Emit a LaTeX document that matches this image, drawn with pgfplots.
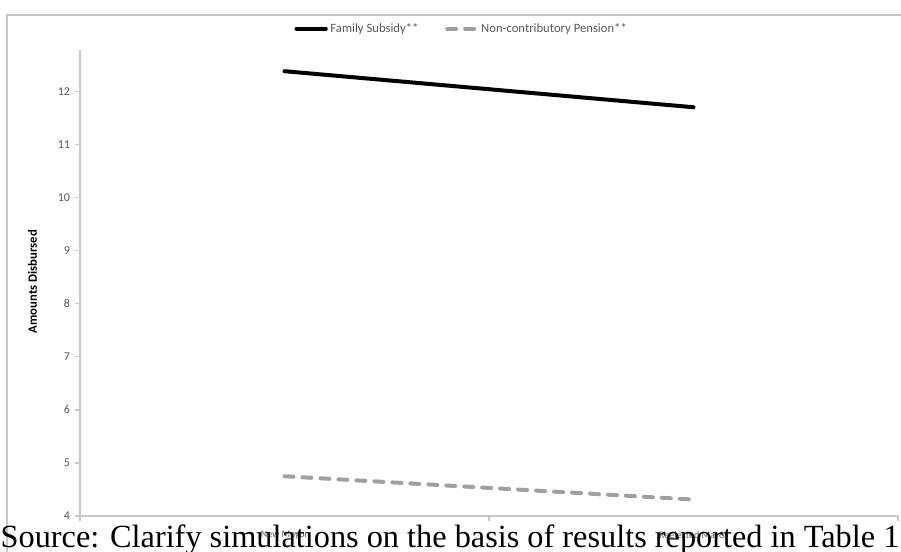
\documentclass[border=0pt]{standalone}
\usepackage{fontspec}
\setmainfont{Carlito}
\newfontfamily\timesfont{Liberation Serif}
\usepackage{pgfplots}
\pgfplotsset{compat=1.18}
\definecolor{axgray}{HTML}{C8C8C8}
\definecolor{lblgray}{HTML}{595959}
\definecolor{dashgray}{HTML}{A0A0A0}
\begin{document}
\begin{tikzpicture}
\path[use as bounding box] (0,0) rectangle (675.75pt,-414pt);
\draw[axgray, line width=0.9pt] (5.25pt,-414pt) -- (5.25pt,-11.25pt) -- (676pt,-11.25pt);
\begin{axis}[
  at={(60pt,-387pt)}, anchor=south west,
  scale only axis, width=613.5pt, height=349.5pt,
  xmin=0, xmax=2, ymin=4, ymax=12.79,
  axis x line*=bottom, axis y line*=left,
  axis line style={axgray, line width=0.8pt},
  tick align=outside,
  /pgf/number format/assume math mode=true,
  xtick={0.5,1.5}, xticklabels={New Mayor, Reelected Mayor},
  major x tick style={draw=none},
  minor xtick={0,1,2},
  minor tick length=4pt,
  major tick length=4pt,
  tick style={axgray, line width=0.8pt},
  ytick={4,5,...,12},
  yticklabel style={font=\fontsize{9}{10}\selectfont, text=lblgray},
  xticklabel style={font=\fontsize{7.5}{8}\selectfont, text=lblgray, yshift=-4pt},
  ylabel={\bfseries Amounts Disbursed},
  ylabel style={font=\fontsize{9.5}{10}\selectfont, text=black, at={(axis description cs:-0.058,0.503)}, anchor=center},
  legend columns=2,
  legend style={draw=none, fill=none, at={(0.467,1.046)}, anchor=center,
    font=\fontsize{9.5}{10}\selectfont, text=lblgray,
    /tikz/every even column/.append style={column sep=18pt}},
  legend image code/.code={\draw[#1] (0pt,0pt) -- (22pt,0pt);},
  clip=false,
]
\addplot[black, line width=3pt, line cap=round] coordinates {(0.5,12.39) (1.5,11.71)};
\addlegendentry{Family Subsidy**}
\addplot[dashgray, line width=3pt, line cap=round, dash pattern=on 6.75pt off 6.75pt] coordinates {(0.5,4.75) (1.5,4.31)};
\addlegendentry{Non-contributory Pension**}
\end{axis}
\node[anchor=base, inner sep=0pt] at (337.5pt,-410.25pt) {\resizebox{674pt}{!}{\timesfont Source: Clarify simulations on the basis of results reported in Table 1}};
\end{tikzpicture}
\end{document}
